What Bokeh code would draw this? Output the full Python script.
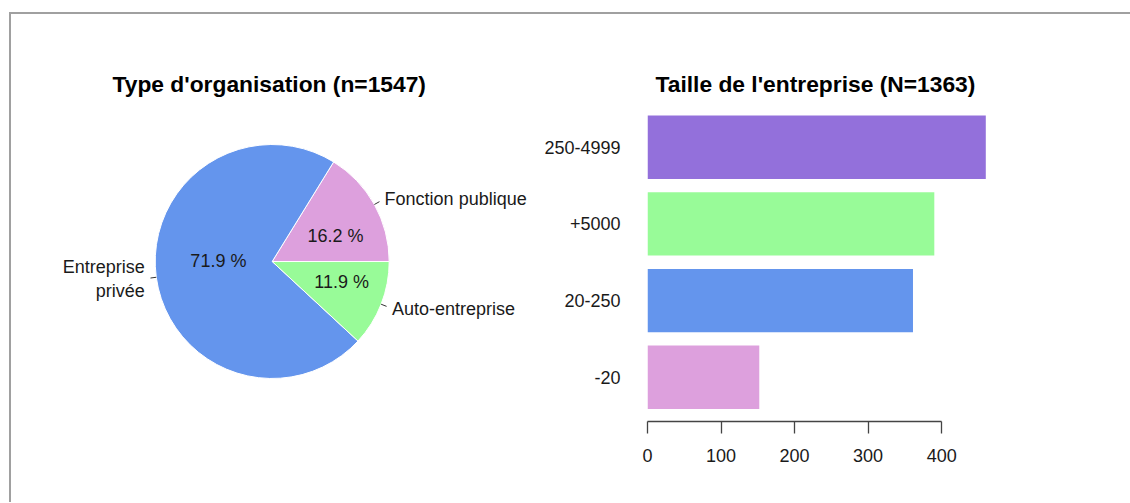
import math
from bokeh.plotting import figure
from bokeh.layouts import row
from bokeh.models import Range1d, FixedTicker, Title
from bokeh.core.properties import value
from bokeh.embed import file_html
from bokeh.resources import INLINE

# ---------------- data ----------------
org_title = "Type d'organisation (n=1547)"
org_labels = ["Fonction publique", "Entreprise\nprivée", "Auto-entreprise"]
org_pct = [16.2, 71.9, 11.9]
org_colors = ["#DDA0DD", "#6495ED", "#98FB98"]

size_title = "Taille de l'entreprise (N=1363)"
size_cats = ["-20", "20-250", "+5000", "250-4999"]
size_counts = [152, 361, 390, 460]
size_colors = ["#DDA0DD", "#6495ED", "#98FB98", "#9370DB"]
x_ticks = [0, 100, 200, 300, 400]

# ---------------- style ----------------
FONT = "Liberation Sans"
TXT = "#1a1a1a"
LBL_SIZE = "18px"
TITLE_SIZE = "22.8px"
# placement of % labels: fraction of radius and angular nudge (degrees) from slice middle
pct_label_r = [0.585, 0.46, 0.62]
pct_label_dangle = [-6.9, -8.7, 4.8]

# shared frame geometry (row layouts align the plot frames)
H = 488
TOP = 91
FRAME_H = 316
BOTTOM = H - TOP - FRAME_H

# ---------------- pie ----------------
W1 = 525
R_PX = 117.0
CX, CY = 260.7, 156.0   # pie centre inside the frame (px from frame left / top)
p1 = figure(width=W1, height=H, output_backend="svg", toolbar_location=None,
            x_axis_location=None, y_axis_location=None,
            min_border_left=0, min_border_right=0, min_border_top=TOP, min_border_bottom=BOTTOM,
            x_range=Range1d(-CX / R_PX, (W1 - CX) / R_PX),
            y_range=Range1d(-(FRAME_H - CY) / R_PX, CY / R_PX))
p1.grid.visible = False
p1.outline_line_color = None
p1.background_fill_color = "white"
p1.border_fill_color = "white"
p1.title = Title(text=org_title, align="left", text_font=FONT, text_font_style="bold",
                 text_font_size=TITLE_SIZE, text_color="black", standoff=17, offset=101)

total = sum(org_pct)
starts, ends, mids = [], [], []
acc = 0.0
for v in org_pct:
    a0 = 2 * math.pi * acc / total
    acc += v
    a1 = 2 * math.pi * acc / total
    starts.append(a0)
    ends.append(a1)
    mids.append((a0 + a1) / 2)

p1.wedge(x=0, y=0, radius=1.0, start_angle=starts, end_angle=ends, direction="anticlock",
         fill_color=org_colors, line_color="white", line_width=1)

# leader ticks + outer labels
for lab, m in zip(org_labels, mids):
    c, s = math.cos(m), math.sin(m)
    p1.line([c, 1.05 * c], [s, 1.05 * s], line_color="#333333", line_width=1)
    p1.text(x=[1.1 * c], y=[1.1 * s], text=[lab], text_align="left" if c > 0 else "right",
            text_baseline="middle", text_font=value(FONT), text_font_size=LBL_SIZE,
            text_color=TXT, text_line_height=1.22)

# percentage labels
for v, m, rr, da in zip(org_pct, mids, pct_label_r, pct_label_dangle):
    a = m + math.radians(da)
    p1.text(x=[rr * math.cos(a)], y=[rr * math.sin(a)], text=[f"{v:.1f} %"],
            text_align="center", text_baseline="middle", text_font=value(FONT),
            text_font_size=LBL_SIZE, text_color=TXT)

# ---------------- bars ----------------
W2 = 594
pitch = 76.7
ypos = list(range(1, len(size_cats) + 1))
y_end = len(size_cats) + 41.7 / pitch
y_start = y_end - FRAME_H / pitch
p2 = figure(width=W2, height=H, output_backend="svg", toolbar_location=None,
            min_border_left=111, min_border_right=W2 - 111 - 353, min_border_top=TOP,
            min_border_bottom=BOTTOM,
            x_range=Range1d(0, 480), y_range=Range1d(y_start, y_end))
p2.grid.visible = False
p2.outline_line_color = None
p2.background_fill_color = "white"
p2.border_fill_color = "white"
p2.title = Title(text=size_title, align="left", text_font=FONT, text_font_style="bold",
                 text_font_size=TITLE_SIZE, text_color="black", standoff=17, offset=8)

p2.hbar(y=ypos, right=size_counts, left=0, height=0.826, fill_color=size_colors, line_color=None)

xa = p2.xaxis[0]
xa.ticker = FixedTicker(ticks=x_ticks)
xa.bounds = (x_ticks[0], x_ticks[-1])
xa.axis_line_color = "#444444"
xa.axis_line_width = 1.3
xa.major_tick_line_color = "#444444"
xa.major_tick_line_width = 1.3
xa.major_tick_out = 12
xa.major_tick_in = 0
xa.minor_tick_line_color = None
xa.major_label_standoff = 15
xa.major_label_text_font = FONT
xa.major_label_text_font_size = LBL_SIZE
xa.major_label_text_color = TXT

ya = p2.yaxis[0]
ya.ticker = FixedTicker(ticks=ypos)
ya.major_label_overrides = {i: c for i, c in zip(ypos, size_cats)}
ya.axis_line_color = None
ya.major_tick_line_color = None
ya.minor_tick_line_color = None
ya.major_tick_out = 0
ya.major_tick_in = 0
ya.major_label_standoff = 27
ya.major_label_text_font = FONT
ya.major_label_text_font_size = LBL_SIZE
ya.major_label_text_color = TXT

layout = row(p1, p2, margin=(12, 0, 0, 9),
             styles={"border-left": "2px solid #a0a0a0", "border-top": "2px solid #a0a0a0"})

open("out.html", "w").write(file_html(layout, INLINE))
